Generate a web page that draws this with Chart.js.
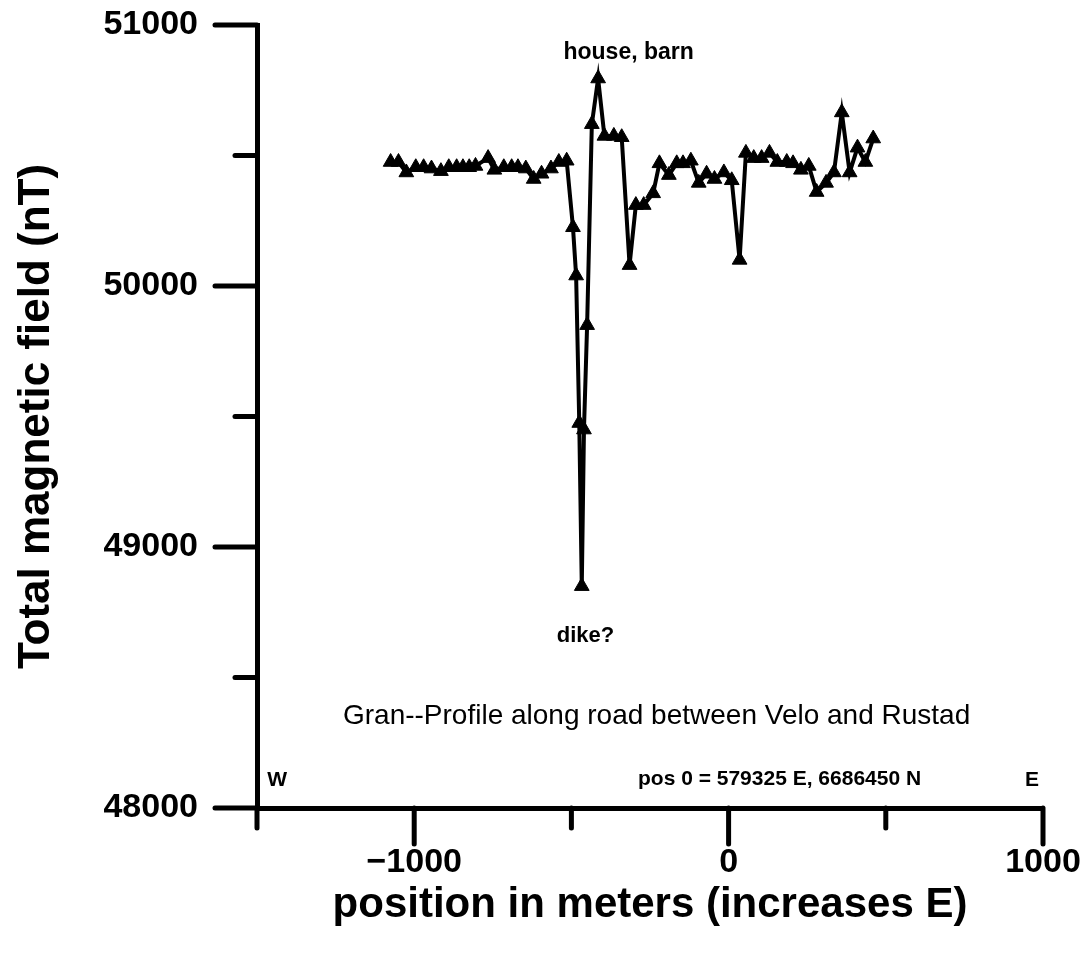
<!DOCTYPE html>
<html>
<head>
<meta charset="utf-8">
<script src="https://cdn.jsdelivr.net/npm/chart.js@4.4.1/dist/chart.umd.min.js"></script>
<style>
    html, body { margin: 0; padding: 0; background: #fff; }
    #wrap { width: 1087px; height: 959px; }
</style>
</head>
<body>
<div id="wrap"><canvas id="magChart" width="1087" height="959"></canvas></div>
<script>
// 测线位置 (m, 0 = 参考点, 向东增加)
const positions = [
    -1075, -1050, -1025, -995, -970, -945, -915, -890, -865, -845, -825, -805,
    -765, -745, -715, -690, -670, -645, -620, -595, -565, -540, -515,
    -495, -485, -475, -467, -460, -450, -435, -415, -395, -365, -340,
    -315, -295, -270, -240, -220, -190, -165, -145, -120, -95, -70, -45, -15,
    10, 35, 55, 80, 105, 130, 155, 185, 205, 230, 255, 280, 310, 335, 360,
    385, 410, 435, 460
];
// 总磁场读数 (nT)
const fieldValues = [
    50475, 50475, 50435, 50455, 50455, 50450, 50440, 50455, 50455, 50455, 50455, 50460,
    50490, 50445, 50455, 50455, 50455, 50450, 50410, 50430, 50450, 50475, 50480,
    50225, 50040, 49475, 48850, 49450, 49850, 50620, 50795, 50575, 50575, 50570,
    50080, 50310, 50310, 50355, 50470, 50425, 50470, 50470, 50480, 50395, 50430, 50410, 50435,
    50405, 50100, 50510, 50490, 50490, 50510, 50475, 50475, 50470, 50445, 50460, 50360, 50395, 50435, 50665,
    50435, 50530, 50475, 50565
];
// 坐标轴刻度
const xTicks = [-1500, -1000, -500, 0, 500, 1000];
const yTicks = [48000, 48500, 49000, 49500, 50000, 50500, 51000];
const xLabelled = [-1000, 0, 1000];
const yLabelled = [48000, 49000, 50000, 51000];

// 图中注释文字
const notes = [
    { text: 'house, barn', x: -318, y: 50893, bold: true, size: 23 },
    { text: 'dike?', x: -455, y: 48660, bold: true, size: 22 },
    { text: 'Gran--Profile along road between Velo and Rustad', x: -229, y: 48351, bold: false, size: 28 },
    { text: 'pos 0 = 579325 E, 6686450 N', x: 162, y: 48112, bold: true, size: 21 },
    { text: 'W', x: -1436, y: 48108, bold: true, size: 21 },
    { text: 'E', x: 965, y: 48108, bold: true, size: 21 }
];

const FONT = "'Liberation Sans', Arial, sans-serif";

// 自绘刻度线 (圆头, 主/次刻度长短不同)
const tickPlugin = {
    id: 'tickMarks',
    afterDraw(chart) {
        const ctx = chart.ctx;
        const xs = chart.scales.x, ys = chart.scales.y;
        const area = chart.chartArea;
        ctx.save();
        ctx.strokeStyle = '#000';
        ctx.lineWidth = 5;
        ctx.lineCap = 'round';
        xTicks.forEach(v => {
            const px = xs.getPixelForValue(v);
            const len = xLabelled.includes(v) ? 36 : 20;
            ctx.beginPath();
            ctx.moveTo(px, area.bottom);
            ctx.lineTo(px, area.bottom + len);
            ctx.stroke();
        });
        yTicks.forEach(v => {
            const py = ys.getPixelForValue(v);
            const len = yLabelled.includes(v) ? 42 : 22;
            ctx.beginPath();
            ctx.moveTo(area.left, py);
            ctx.lineTo(area.left - len, py);
            ctx.stroke();
        });
        ctx.restore();
    }
};

// 注释文字
const notePlugin = {
    id: 'notes',
    afterDraw(chart) {
        const ctx = chart.ctx;
        const xs = chart.scales.x, ys = chart.scales.y;
        ctx.save();
        ctx.fillStyle = '#000';
        ctx.textAlign = 'center';
        ctx.textBaseline = 'middle';
        notes.forEach(n => {
            ctx.font = (n.bold ? 'bold ' : '') + n.size + 'px ' + FONT;
            ctx.fillText(n.text, xs.getPixelForValue(n.x), ys.getPixelForValue(n.y));
        });
        ctx.restore();
    }
};

const points = positions.map((p, i) => ({ x: p, y: fieldValues[i] }));

new Chart(document.getElementById('magChart'), {
    type: 'scatter',
    data: {
        datasets: [{
            data: points,
            showLine: true,
            borderColor: '#000',
            backgroundColor: '#000',
            borderWidth: 4,
            pointStyle: 'triangle',
            pointRadius: 8.5,
            pointBorderWidth: 1,
            tension: 0
        }]
    },
    options: {
        responsive: false,
        animation: false,
        layout: { padding: { top: 25, right: 44, left: 0, bottom: 0 } },
        plugins: {
            legend: { display: false },
            tooltip: { enabled: false }
        },
        scales: {
            x: {
                type: 'linear',
                min: -1500,
                max: 1000,
                afterFit: axis => {
                    axis.height = 151;
                    axis.paddingLeft = 0;
                    axis.paddingRight = 0;
                },
                afterBuildTicks: axis => { axis.ticks = xTicks.map(v => ({ value: v })); },
                border: { display: true, color: '#000', width: 5 },
                grid: { drawOnChartArea: false, drawTicks: true, tickLength: 34, tickColor: 'rgba(0,0,0,0)' },
                ticks: {
                    color: '#000',
                    padding: 0,
                    maxRotation: 0,
                    font: { family: FONT, size: 34, weight: 'bold' },
                    callback: v => xLabelled.includes(v) ? String(v).replace('-', '\u2212') : ''
                },
                title: {
                    display: true,
                    text: 'position in meters (increases E)',
                    color: '#000',
                    font: { family: FONT, size: 42, weight: 'bold' },
                    padding: { top: 0, bottom: 28 }
                }
            },
            y: {
                type: 'linear',
                min: 48000,
                max: 51000,
                afterFit: axis => {
                    axis.width = 257;
                    axis.paddingTop = 0;
                    axis.paddingBottom = 0;
                },
                afterBuildTicks: axis => { axis.ticks = yTicks.map(v => ({ value: v })); },
                border: { display: true, color: '#000', width: 5 },
                grid: { drawOnChartArea: false, drawTicks: true, tickLength: 42, tickColor: 'rgba(0,0,0,0)' },
                ticks: {
                    color: '#000',
                    padding: 17,
                    font: { family: FONT, size: 34, weight: 'bold' },
                    callback: v => yLabelled.includes(v) ? String(v) : ''
                },
                title: {
                    display: true,
                    text: 'Total magnetic field (nT)',
                    color: '#000',
                    font: { family: FONT, size: 44, weight: 'bold' },
                    padding: { top: 10, bottom: 0 }
                }
            }
        }
    },
    plugins: [tickPlugin, notePlugin]
});
</script>
</body>
</html>
